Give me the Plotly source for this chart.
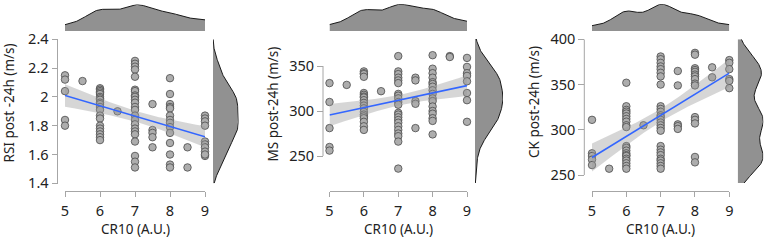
import numpy as np
import plotly.graph_objects as go

W, H = 767, 240

# ---------------- data ----------------
rsi_x = ([5]*5 + [5.5] + [6]*20 + [6.5] + [7]*23 + [7.5]*5 + [8]*14 + [8.5]*2 + [9]*10)
rsi_y = ([2.15, 2.12, 2.04, 1.84, 1.80] + [2.11] +
         [2.06, 2.05, 2.04, 2.03, 2.02, 2.00, 1.99, 1.98, 1.96, 1.95, 1.93, 1.91, 1.87, 1.85, 1.80, 1.78, 1.76, 1.74, 1.72, 1.70] +
         [1.90] +
         [2.25, 2.23, 2.21, 2.19, 2.14, 2.05, 2.04, 2.01, 2.00, 1.98, 1.96, 1.93, 1.91, 1.87, 1.84, 1.81, 1.78, 1.76, 1.74, 1.69, 1.59, 1.55, 1.51] +
         [1.95, 1.77, 1.75, 1.72, 1.65] +
         [2.13, 2.02, 1.95, 1.93, 1.92, 1.87, 1.84, 1.82, 1.79, 1.75, 1.68, 1.60, 1.53, 1.51] +
         [1.65, 1.51] +
         [1.87, 1.85, 1.83, 1.80, 1.69, 1.67, 1.65, 1.62, 1.59, 1.60])

ms_x = ([5]*5 + [5.5] + [6]*19 + [6.5] + [7]*22 + [7.5]*5 + [8]*17 + [8.5]*2 + [9]*8)
ms_y = ([331, 310, 281, 260, 256] + [329] +
        [344, 342, 341, 338, 320, 318, 316, 315, 312, 309, 306, 303, 299, 296, 294, 292, 288, 283, 279] +
        [322] +
        [361, 344, 341, 337, 334, 331, 319, 317, 314, 310, 307, 298, 296, 293, 290, 287, 283, 279, 275, 272, 266, 236] +
        [337, 334, 311, 308, 281] +
        [362, 347, 342, 337, 332, 330, 327, 323, 319, 314, 311, 305, 300, 297, 292, 289, 274] +
        [361, 360] +
        [359, 349, 342, 339, 333, 320, 312, 288])

ck_x = ([5]*5 + [5.5] + [6]*21 + [6.5] + [7]*27 + [7.5]*5 + [8]*15 + [8.5]*2 + [9]*6)
ck_y = ([311, 274, 271, 267, 261] + [257] +
        [352, 326, 322, 320, 318, 315, 312, 309, 305, 303, 282, 280, 277, 274, 272, 271, 268, 266, 263, 260, 257] +
        [305] +
        [381, 378, 374, 370, 367, 363, 359, 350, 326, 323, 320, 316, 314, 311, 308, 305, 302, 299,
         282, 278, 275, 272, 268, 266, 263, 260, 257] +
        [365, 349, 306, 304, 301] +
        [385, 383, 368, 366, 364, 361, 359, 356, 351, 349, 314, 311, 307, 270, 264] +
        [369, 358] +
        [377, 374, 367, 356, 354, 346])

x_title = "CR10 (A.U.)"
y_titles = ["RSI post -24h (m/s)", "MS post-24h (m/s)", "CK post-24h (m/s)"]
x_ticks = [5, 6, 7, 8, 9]
y_ticks = [[1.4, 1.6, 1.8, 2.0, 2.2, 2.4], [250, 300, 350], [250, 300, 350, 400]]
y_ticktext = [["1.4", "1.6", "1.8", "2", "2.2", "2.4"], ["250", "300", "350"], ["250", "300", "350", "400"]]

# ---------------- layout geometry (pixels) ----------------
panels = [
    dict(x=rsi_x, y=rsi_y, xpx=(65, 205), ypx=(39.3, 183.3), yr=(1.4, 2.4), yax=57.5,
         yline=(1.4, 2.4), rpx=(213, 238.5), tpx=(4.5, 31), ytc=(8.5, 103), rbw=1.0),
    dict(x=ms_x, y=ms_y, xpx=(329.5, 467), ypx=(39, 183), yr=(220, 380), yax=323,
         yline=(250, 350), rpx=(475, 503), tpx=(4.3, 31), ytc=(272.5, 104), rbw=1.15),
    dict(x=ck_x, y=ck_y, xpx=(592, 729.3), ypx=(39.3, 183), yr=(241.2, 400), yax=584.3,
         yline=(250, 400), rpx=(737.7, 763.3), tpx=(4.3, 31), ytc=(534, 102), rbw=1.0),
]

FONT = "Noto Sans"
AXC = "#a6a6a6"
TXT = "#222222"


def px_x(p):
    return p / W


def px_y(p):
    return 1 - p / H


def bw_nrd0(v):
    v = np.asarray(v, float)
    sd = v.std(ddof=1)
    iqr = np.subtract(*np.percentile(v, [75, 25]))
    lo = min(sd, iqr / 1.34) if iqr > 0 else sd
    return 0.9 * lo * len(v) ** (-0.2)


def kde(v, grid, adjust=1.0):
    v = np.asarray(v, float)
    h = bw_nrd0(v) * adjust
    z = (grid[:, None] - v[None, :]) / h
    return np.exp(-0.5 * z ** 2).sum(1) / (len(v) * h * np.sqrt(2 * np.pi))


fig = go.Figure()
layout = {}
shapes = []
annotations = []

for i, P in enumerate(panels):
    k = 3 * i
    ids = [k + 1, k + 2, k + 3]
    xn = ["x" if n == 1 else f"x{n}" for n in ids]
    yn = ["y" if n == 1 else f"y{n}" for n in ids]
    xl = ["xaxis" if n == 1 else f"xaxis{n}" for n in ids]
    yl = ["yaxis" if n == 1 else f"yaxis{n}" for n in ids]

    xs = np.asarray(P["x"], float)
    ys = np.asarray(P["y"], float)

    # regression with 95% CI
    n = len(xs)
    b, a = np.polyfit(xs, ys, 1)
    xg = np.linspace(5, 9, 80)
    yg = a + b * xg
    resid = ys - (a + b * xs)
    s = np.sqrt((resid ** 2).sum() / (n - 2))
    sxx = ((xs - xs.mean()) ** 2).sum()
    se = s * np.sqrt(1 / n + (xg - xs.mean()) ** 2 / sxx)
    tq = 1.99
    lo, hi = yg - tq * se, yg + tq * se

    fig.add_trace(go.Scatter(x=xs, y=ys, mode="markers", xaxis=xn[0], yaxis=yn[0],
                             marker=dict(size=7.5, color="#adadad", line=dict(color="#4a4a4a", width=0.8)),
                             cliponaxis=False, showlegend=False, hoverinfo="skip"))
    fig.add_trace(go.Scatter(x=np.concatenate([xg, xg[::-1]]), y=np.concatenate([hi, lo[::-1]]),
                             mode="lines", fill="toself", fillcolor="rgba(153,153,153,0.4)",
                             line=dict(width=0), xaxis=xn[0], yaxis=yn[0], showlegend=False,
                             hoverinfo="skip"))
    fig.add_trace(go.Scatter(x=xg, y=yg, mode="lines", line=dict(color="#3366FF", width=1.6),
                             xaxis=xn[0], yaxis=yn[0], showlegend=False, hoverinfo="skip"))

    # top density
    tg = np.linspace(5, 9, 200)
    td = kde(xs, tg)
    fig.add_trace(go.Scatter(x=tg, y=td, mode="lines", fill="tozeroy", fillcolor="#919191",
                             line=dict(color="#1a1a1a", width=1), xaxis=xn[1], yaxis=yn[1],
                             showlegend=False, hoverinfo="skip"))
    # right density
    rg = np.linspace(P["yr"][0], P["yr"][1], 200)
    rd = kde(ys, rg, P["rbw"])
    fig.add_trace(go.Scatter(x=rd, y=rg, mode="lines", fill="tozerox", fillcolor="#919191",
                             line=dict(color="#1a1a1a", width=1), xaxis=xn[2], yaxis=yn[2],
                             showlegend=False, hoverinfo="skip"))

    xd = [px_x(P["xpx"][0]), px_x(P["xpx"][1])]
    yd = [px_y(P["ypx"][1]), px_y(P["ypx"][0])]

    layout[xl[0]] = dict(domain=xd, range=[5, 9], anchor="free", position=px_y(190.7),
                         showline=True, linecolor=AXC, linewidth=1, ticks="outside", ticklen=5,
                         tickcolor=AXC, tickvals=x_ticks, showgrid=False, zeroline=False,
                         automargin=False, ticklabelstandoff=2,
                         tickfont=dict(family=FONT, size=14.5, color=TXT))
    layout[yl[0]] = dict(domain=yd, range=list(P["yr"]), anchor="free", position=px_x(P["yax"]),
                         showline=False, ticks="outside", ticklen=6, tickcolor=AXC,
                         tickvals=y_ticks[i], ticktext=y_ticktext[i], showgrid=False, zeroline=False,
                         automargin=False,
                         tickfont=dict(family=FONT, size=14.5, color=TXT))
    shapes.append(dict(type="line", xref="paper", yref=yn[0], x0=px_x(P["yax"]), x1=px_x(P["yax"]),
                       y0=P["yline"][0], y1=P["yline"][1], line=dict(color=AXC, width=1)))

    layout[xl[1]] = dict(domain=xd, range=[5, 9], anchor=yn[1], visible=False, automargin=False)
    layout[yl[1]] = dict(domain=[px_y(P["tpx"][1]), px_y(P["tpx"][0])], range=[0, td.max()],
                         anchor=xn[1], visible=False, automargin=False)
    layout[xl[2]] = dict(domain=[px_x(P["rpx"][0]), px_x(P["rpx"][1])], range=[0, rd.max()],
                         anchor=yn[2], visible=False, automargin=False)
    layout[yl[2]] = dict(domain=yd, range=list(P["yr"]), anchor=xn[2], visible=False, automargin=False)

    annotations.append(dict(text=x_title, xref="paper", yref="paper",
                            x=(xd[0] + xd[1]) / 2, y=px_y(229), xanchor="center", yanchor="middle",
                            showarrow=False, font=dict(family=FONT, size=13.5, color=TXT)))
    annotations.append(dict(text=y_titles[i], xref="paper", yref="paper", textangle=-90,
                            x=px_x(P["ytc"][0]), y=px_y(P["ytc"][1]), xanchor="center",
                            yanchor="middle", showarrow=False,
                            font=dict(family=FONT, size=13.5, color=TXT)))

fig.update_layout(template="none", width=W, height=H, margin=dict(l=0, r=0, t=0, b=0, pad=0),
                  paper_bgcolor="white", plot_bgcolor="white",
                  shapes=shapes, annotations=annotations, **layout)

fig.write_html("out.html", config={"displayModeBar": False})
